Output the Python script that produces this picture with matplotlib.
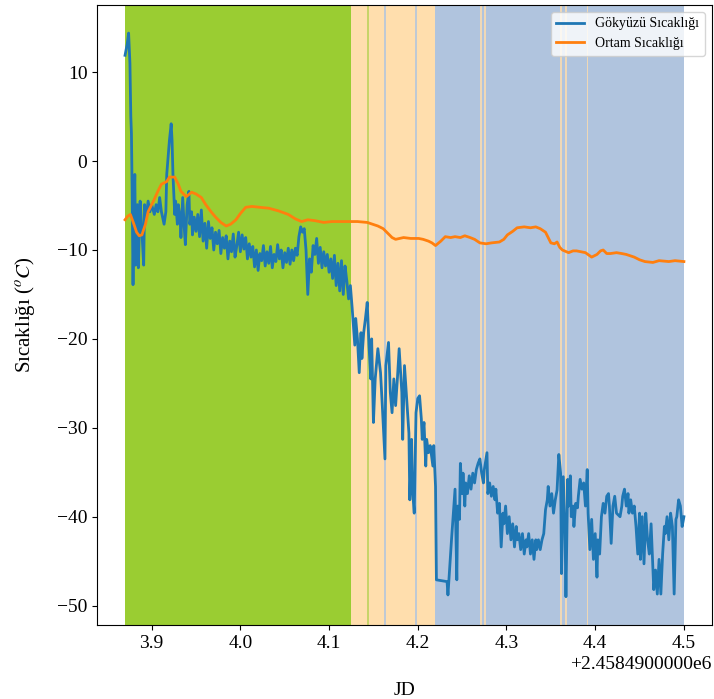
import matplotlib
matplotlib.use('Agg')
import matplotlib.pyplot as plt
from matplotlib.ticker import FuncFormatter

plt.rcParams['font.family'] = ['Liberation Serif', 'DejaVu Serif']
plt.rcParams['mathtext.fontset'] = 'stix'

JD0 = 2458490

# sky temperature (JD fraction, degC)
gok_t = [3.870, 3.8725, 3.874, 3.8755, 3.8765, 3.8772, 3.878, 3.879, 3.880, 3.881, 3.882, 3.884, 3.885, 3.887,
         3.889, 3.891, 3.892, 3.894, 3.896, 3.898, 3.900, 3.903, 3.905, 3.907, 3.909, 3.911, 3.914, 3.916,
         3.917, 3.920, 3.922, 3.923, 3.924, 3.926, 3.927, 3.929, 3.930, 3.932, 3.933, 3.935, 3.937, 3.938,
         3.940, 3.942, 3.943, 3.945, 3.946, 3.948, 3.950,
         3.952, 3.954, 3.956, 3.958, 3.960, 3.962, 3.964, 3.966, 3.968, 3.970, 3.972, 3.974, 3.976, 3.978,
         3.980, 3.982, 3.984, 3.986, 3.988, 3.990, 3.992, 3.994, 3.996, 3.998, 4.000, 4.002, 4.004, 4.006,
         4.008, 4.010, 4.012, 4.014, 4.016, 4.018, 4.020, 4.022, 4.024, 4.026, 4.028, 4.030, 4.032, 4.034,
         4.036, 4.038, 4.040, 4.042, 4.044, 4.046, 4.048, 4.050, 4.052, 4.054, 4.056, 4.058, 4.060, 4.062,
         4.064, 4.066, 4.068, 4.070, 4.072, 4.074, 4.076, 4.078, 4.080, 4.082, 4.084, 4.086, 4.088, 4.090,
         4.092, 4.094, 4.096, 4.098, 4.100, 4.102, 4.104, 4.106, 4.108, 4.110, 4.112, 4.114, 4.116, 4.118,
         4.120, 4.122, 4.124,
         4.126, 4.129, 4.130, 4.132, 4.134, 4.136, 4.137, 4.139, 4.141, 4.143, 4.145, 4.147, 4.148, 4.150,
         4.152, 4.155, 4.158, 4.160, 4.163, 4.164, 4.167, 4.169, 4.171, 4.173, 4.175, 4.177, 4.179, 4.182,
         4.183, 4.185, 4.186, 4.188, 4.190, 4.191, 4.193, 4.194, 4.196, 4.198, 4.200, 4.202, 4.204, 4.205,
         4.207, 4.209, 4.210, 4.212, 4.214, 4.217, 4.218, 4.220, 4.221, 4.233, 4.234, 4.238, 4.242, 4.244,
         4.245, 4.247, 4.248, 4.250, 4.251, 4.253, 4.254, 4.256, 4.258, 4.260, 4.262, 4.264, 4.266, 4.268,
         4.270, 4.272, 4.274, 4.275, 4.278, 4.279, 4.281, 4.283, 4.285, 4.287, 4.288, 4.290, 4.292, 4.294,
         4.296, 4.297, 4.299, 4.301, 4.303, 4.305, 4.307, 4.309, 4.311, 4.312, 4.314, 4.316, 4.318, 4.320,
         4.322, 4.323, 4.325, 4.327, 4.329, 4.331, 4.333, 4.334, 4.336, 4.338, 4.340, 4.342, 4.344, 4.346,
         4.347, 4.349, 4.351, 4.353, 4.355, 4.357, 4.359, 4.361, 4.362, 4.364, 4.366, 4.367, 4.369, 4.370,
         4.372, 4.373, 4.375, 4.376, 4.378, 4.380, 4.381, 4.383, 4.385, 4.387, 4.389, 4.391, 4.392, 4.394,
         4.396, 4.398, 4.400, 4.402, 4.403, 4.405, 4.407, 4.409, 4.411, 4.413, 4.415, 4.416, 4.418, 4.420,
         4.422, 4.424, 4.428, 4.430, 4.431, 4.433, 4.435, 4.437, 4.438, 4.440, 4.442, 4.444, 4.446, 4.448,
         4.450, 4.451, 4.453, 4.455, 4.457, 4.459, 4.461, 4.463, 4.465, 4.466, 4.468, 4.470, 4.472, 4.474,
         4.476, 4.478, 4.479, 4.481, 4.483, 4.485, 4.487, 4.489, 4.491, 4.492, 4.494, 4.496, 4.498, 4.500]
gok_temp = [11.9, 13.2, 14.4, 11.0, 5.0, 3.1, -3.4, -13.9, -5.7, -1.5, -11.7, -4.9, -12.0, -4.5,
            -7.9, -11.7, -4.9, -6.3, -4.5, -5.7, -4.9, -6.0, -4.9, -5.7, -4.1, -5.7, -7.1, -5.7,
            -1.5, 2.3, 4.2, 2.3, -1.5, -6.0, -4.5, -7.1, -4.9, -6.3, -8.6, -4.1, -7.9, -9.4,
            -4.9, -3.4, -7.1, -5.7, -8.3, -6.3, -7.9,
            -6.0, -8.5, -5.5, -9.0, -7.0, -9.8, -6.8, -8.7, -7.5, -10.0, -8.0, -9.3, -7.8, -10.4,
            -8.6, -9.8, -8.4, -11.0, -9.0, -10.2, -8.2, -10.8, -9.5, -8.0, -10.2, -8.3, -9.9, -8.6,
            -11.0, -9.3, -10.8, -9.6, -11.9, -10.0, -12.3, -10.4, -11.2, -9.5, -11.8, -10.2, -11.5, -9.6,
            -12.0, -10.5, -11.3, -9.4, -11.0, -10.0, -12.0, -10.3, -11.4, -9.8, -11.6, -10.0, -11.2, -9.8,
            -10.6, -8.5, -7.4, -8.0, -7.6, -10.0, -15.0, -11.0, -12.5, -9.5, -10.5, -8.7, -11.5, -9.7,
            -12.0, -10.2, -11.8, -10.5, -12.5, -11.0, -13.2, -10.6, -14.0, -11.5, -14.6, -11.2, -15.0, -11.8,
            -13.5, -15.5, -14.0,
            -16.5, -20.7, -17.7, -20.0, -23.8, -19.3, -22.2, -19.3, -17.7, -15.9, -20.7, -24.5, -20.0, -29.4,
            -24.5, -21.1, -23.8, -27.5, -33.5, -23.0, -20.4, -26.0, -28.3, -24.5, -27.5, -24.5, -21.1, -26.0,
            -31.3, -23.0, -24.5, -27.5, -30.6, -38.1, -31.3, -36.9, -39.6, -28.3, -26.7, -26.4, -29.0, -31.3,
            -29.4, -34.3, -31.3, -32.8, -32.0, -34.3, -32.0, -36.6, -47.1, -47.3, -48.8, -42.6, -36.9, -47.1,
            -38.8, -40.3, -34.0, -37.4, -35.1, -38.8, -36.2, -37.4, -35.4, -36.9, -35.1, -36.2, -34.7, -34.0,
            -33.5, -35.1, -36.2, -34.7, -32.8, -37.4, -36.2, -37.7, -36.6, -38.1, -36.9, -39.6, -38.5, -43.4,
            -39.6, -40.8, -38.8, -41.9, -40.0, -42.6, -40.8, -43.4, -41.1, -42.6, -41.9, -43.7, -41.9, -44.2,
            -42.6, -43.4, -41.9, -44.2, -42.6, -44.8, -42.6, -43.7, -42.6, -43.7, -42.6, -41.9, -39.2, -38.1,
            -36.6, -38.8, -37.4, -39.6, -38.1, -37.0, -33.0, -35.1, -46.4, -35.5, -41.9, -49.0, -35.8, -38.8,
            -35.4, -40.0, -38.8, -41.1, -38.5, -39.0, -37.7, -35.8, -36.9, -36.2, -38.8, -34.7, -39.6, -43.7,
            -40.3, -44.8, -41.9, -46.8, -42.6, -44.2, -40.0, -38.5, -39.6, -37.7, -37.4, -38.8, -43.0, -38.8,
            -37.7, -39.6, -40.0, -38.8, -37.7, -36.9, -38.8, -37.4, -39.6, -38.1, -39.6, -38.8, -41.1, -44.2,
            -39.6, -44.8, -40.0, -45.3, -39.6, -42.6, -44.2, -40.8, -45.6, -48.2, -46.0, -48.7, -44.8, -48.7,
            -44.2, -41.1, -41.9, -40.0, -42.6, -39.6, -41.1, -48.7, -40.3, -40.0, -38.1, -38.8, -41.1, -40.0]

# ambient temperature
ortam_t = [3.870, 3.873, 3.876, 3.880, 3.883, 3.886, 3.889, 3.893, 3.896, 3.902, 3.907, 3.911, 3.917, 3.920,
           3.926, 3.930, 3.933, 3.939, 3.945, 3.950, 3.956, 3.961, 3.967, 3.972, 3.978, 3.984, 3.989, 3.995,
           4.000, 4.006, 4.013, 4.022, 4.032, 4.043, 4.054, 4.062, 4.069, 4.076, 4.084, 4.094, 4.103, 4.112,
           4.121, 4.132, 4.143, 4.149, 4.155, 4.161, 4.166, 4.171, 4.175, 4.184, 4.192, 4.201, 4.206, 4.212,
           4.216, 4.220, 4.226, 4.231, 4.237, 4.242, 4.248, 4.253, 4.259, 4.264, 4.270, 4.277, 4.283, 4.292,
           4.297, 4.301, 4.307, 4.312, 4.320, 4.327, 4.333, 4.338, 4.344, 4.350, 4.354, 4.357, 4.360, 4.363,
           4.370, 4.375, 4.379, 4.384, 4.389, 4.396, 4.402, 4.406, 4.409, 4.413, 4.417, 4.424, 4.430, 4.435,
           4.444, 4.450, 4.456, 4.465, 4.472, 4.483, 4.490, 4.500]
ortam_temp = [-6.6, -6.2, -6.0, -7.1, -8.0, -8.4, -8.3, -7.1, -5.7, -4.5, -3.4, -2.6, -2.3, -1.8,
              -1.8, -2.6, -3.4, -4.0, -3.5, -3.7, -4.1, -4.9, -5.7, -6.3, -6.9, -7.3, -7.1, -6.6,
              -5.9, -5.2, -5.1, -5.2, -5.3, -5.6, -6.0, -6.5, -6.8, -6.6, -6.7, -6.9, -6.8, -6.8,
              -6.8, -6.8, -6.9, -7.1, -7.3, -7.6, -8.1, -8.6, -8.8, -8.6, -8.7, -8.7, -8.8, -9.0,
              -9.2, -9.5, -9.0, -8.5, -8.6, -8.5, -8.6, -8.4, -8.6, -8.8, -9.2, -9.3, -9.2, -9.1,
              -8.8, -8.3, -7.9, -7.5, -7.4, -7.5, -7.4, -7.6, -8.0, -9.2, -9.3, -9.1, -9.7, -10.0,
              -10.3, -10.1, -10.1, -10.2, -10.3, -10.8, -10.5, -10.1, -10.0, -10.4, -10.4, -10.3, -10.4, -10.5,
              -10.8, -11.1, -11.3, -11.4, -11.2, -11.3, -11.2, -11.3]

# sky condition bands (start, end, colour)
band_start = [3.870, 4.125, 4.219, 4.1432, 4.1622, 4.1972, 4.2702, 4.2752, 4.3602, 4.3662, 4.3902]
band_end = [4.125, 4.219, 4.500, 4.1452, 4.1642, 4.1992, 4.2722, 4.2772, 4.3622, 4.3682, 4.3922]
band_color = ['yellowgreen', 'navajowhite', 'lightsteelblue', 'yellowgreen', 'lightsteelblue',
              'lightsteelblue', 'navajowhite', 'navajowhite', 'navajowhite', 'navajowhite', 'navajowhite']
band_alpha = [1, 1, 1, 0.55, 0.8, 0.8, 0.8, 0.8, 0.8, 0.8, 0.8]

fig, ax = plt.subplots(figsize=(7.14, 6.99), dpi=100)
fig.subplots_adjust(left=0.136, right=0.997, top=0.993, bottom=0.106)

for s, e, c, a in zip(band_start, band_end, band_color, band_alpha):
    ax.axvspan(s + JD0, e + JD0, color=c, alpha=a, lw=0, zorder=0)

ax.plot([t + JD0 for t in gok_t], gok_temp, lw=2, label='Gökyüzü Sıcaklığı')
ax.plot([t + JD0 for t in ortam_t], ortam_temp, lw=2, label='Ortam Sıcaklığı')

ax.set_xticks([JD0 + v for v in [3.9, 4.0, 4.1, 4.2, 4.3, 4.4, 4.5]])
fmt = FuncFormatter(lambda v, p: '%.1f' % (v - JD0))
fmt.set_offset_string('+2.4584900000e6')
ax.xaxis.set_major_formatter(fmt)
ax.tick_params(labelsize=14)
ax.xaxis.get_offset_text().set_fontsize(14)
ax.set_xlabel('JD', fontsize=14, labelpad=22)
ax.set_ylabel('Sıcaklığı ($^oC$)', fontsize=15, labelpad=14)
ax.legend(loc='upper right', fontsize=10)

plt.savefig('out.png')
